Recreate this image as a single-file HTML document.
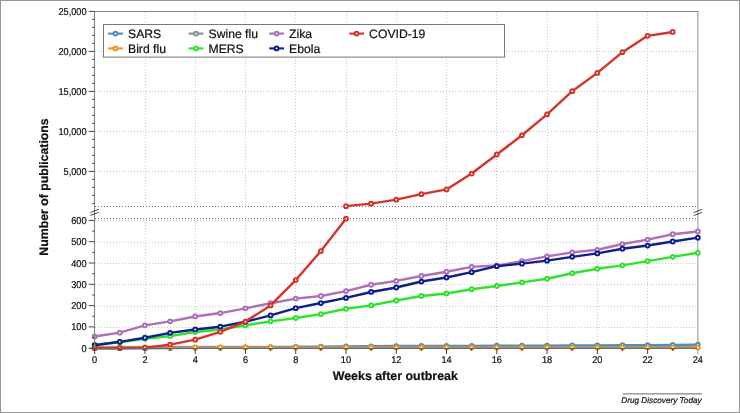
<!DOCTYPE html><html><head><meta charset="utf-8"><style>
html,body{margin:0;padding:0;background:#fff;}
body{width:740px;height:413px;overflow:hidden;position:relative;}
svg{position:absolute;left:0;top:0;filter:blur(0.5px);}
text{font-family:"Liberation Sans",sans-serif;text-rendering:geometricPrecision;stroke:#111;stroke-width:0.22px;}
</style></head><body>
<svg width="740" height="413" viewBox="0 0 740 413">
<rect x="0.5" y="0.5" width="739" height="412" fill="#fff" stroke="#979797" stroke-width="1"/>

<g stroke="#c8c8c8" stroke-width="1" stroke-dasharray="1 2"><line x1="145.5" y1="12" x2="145.5" y2="206" /><line x1="145.5" y1="219" x2="145.5" y2="348" /><line x1="195.5" y1="12" x2="195.5" y2="206" /><line x1="195.5" y1="219" x2="195.5" y2="348" /><line x1="245.5" y1="12" x2="245.5" y2="206" /><line x1="245.5" y1="219" x2="245.5" y2="348" /><line x1="295.5" y1="12" x2="295.5" y2="206" /><line x1="295.5" y1="219" x2="295.5" y2="348" /><line x1="346.5" y1="12" x2="346.5" y2="206" /><line x1="346.5" y1="219" x2="346.5" y2="348" /><line x1="396.5" y1="12" x2="396.5" y2="206" /><line x1="396.5" y1="219" x2="396.5" y2="348" /><line x1="446.5" y1="12" x2="446.5" y2="206" /><line x1="446.5" y1="219" x2="446.5" y2="348" /><line x1="496.5" y1="12" x2="496.5" y2="206" /><line x1="496.5" y1="219" x2="496.5" y2="348" /><line x1="547.5" y1="12" x2="547.5" y2="206" /><line x1="547.5" y1="219" x2="547.5" y2="348" /><line x1="597.5" y1="12" x2="597.5" y2="206" /><line x1="597.5" y1="219" x2="597.5" y2="348" /><line x1="647.5" y1="12" x2="647.5" y2="206" /><line x1="647.5" y1="219" x2="647.5" y2="348" /><line x1="95" y1="171.5" x2="698" y2="171.5" /><line x1="95" y1="131.5" x2="698" y2="131.5" /><line x1="95" y1="91.5" x2="698" y2="91.5" /><line x1="95" y1="51.5" x2="698" y2="51.5" /><line x1="95" y1="327.5" x2="698" y2="327.5" /><line x1="95" y1="306.5" x2="698" y2="306.5" /><line x1="95" y1="284.5" x2="698" y2="284.5" /><line x1="95" y1="263.5" x2="698" y2="263.5" /><line x1="95" y1="242.5" x2="698" y2="242.5" /><line x1="95" y1="220.5" x2="698" y2="220.5" /></g>
<g stroke="#707070" stroke-width="1" stroke-dasharray="1 2"><line x1="95" y1="206.5" x2="698" y2="206.5"/><line x1="95" y1="218.5" x2="698" y2="218.5"/></g>
<line x1="697.8" y1="11" x2="697.8" y2="354.5" stroke="#bcbcbc" stroke-width="1.6"/>
<path d="M94.67,348.20 L119.80,348.20 L144.94,348.20 L170.07,347.99 L195.20,347.77 L220.33,347.56 L245.47,347.35 L270.60,347.13 L295.73,346.92 L320.87,346.71 L346.00,346.50 L371.13,346.28 L396.27,346.07 L421.40,345.86 L446.53,345.86 L471.67,345.86 L496.80,345.64 L521.93,345.64 L547.06,345.64 L572.20,345.43 L597.33,345.43 L622.46,345.22 L647.60,345.22 L672.73,345.00 L697.86,344.58" fill="none" stroke="#4b8fc1" stroke-width="2.4" stroke-linejoin="round"/><circle cx="94.67" cy="348.20" r="1.9" fill="#fff" stroke="#4b8fc1" stroke-width="2.0"/><circle cx="119.80" cy="348.20" r="1.9" fill="#fff" stroke="#4b8fc1" stroke-width="2.0"/><circle cx="144.94" cy="348.20" r="1.9" fill="#fff" stroke="#4b8fc1" stroke-width="2.0"/><circle cx="170.07" cy="347.99" r="1.9" fill="#fff" stroke="#4b8fc1" stroke-width="2.0"/><circle cx="195.20" cy="347.77" r="1.9" fill="#fff" stroke="#4b8fc1" stroke-width="2.0"/><circle cx="220.33" cy="347.56" r="1.9" fill="#fff" stroke="#4b8fc1" stroke-width="2.0"/><circle cx="245.47" cy="347.35" r="1.9" fill="#fff" stroke="#4b8fc1" stroke-width="2.0"/><circle cx="270.60" cy="347.13" r="1.9" fill="#fff" stroke="#4b8fc1" stroke-width="2.0"/><circle cx="295.73" cy="346.92" r="1.9" fill="#fff" stroke="#4b8fc1" stroke-width="2.0"/><circle cx="320.87" cy="346.71" r="1.9" fill="#fff" stroke="#4b8fc1" stroke-width="2.0"/><circle cx="346.00" cy="346.50" r="1.9" fill="#fff" stroke="#4b8fc1" stroke-width="2.0"/><circle cx="371.13" cy="346.28" r="1.9" fill="#fff" stroke="#4b8fc1" stroke-width="2.0"/><circle cx="396.27" cy="346.07" r="1.9" fill="#fff" stroke="#4b8fc1" stroke-width="2.0"/><circle cx="421.40" cy="345.86" r="1.9" fill="#fff" stroke="#4b8fc1" stroke-width="2.0"/><circle cx="446.53" cy="345.86" r="1.9" fill="#fff" stroke="#4b8fc1" stroke-width="2.0"/><circle cx="471.67" cy="345.86" r="1.9" fill="#fff" stroke="#4b8fc1" stroke-width="2.0"/><circle cx="496.80" cy="345.64" r="1.9" fill="#fff" stroke="#4b8fc1" stroke-width="2.0"/><circle cx="521.93" cy="345.64" r="1.9" fill="#fff" stroke="#4b8fc1" stroke-width="2.0"/><circle cx="547.06" cy="345.64" r="1.9" fill="#fff" stroke="#4b8fc1" stroke-width="2.0"/><circle cx="572.20" cy="345.43" r="1.9" fill="#fff" stroke="#4b8fc1" stroke-width="2.0"/><circle cx="597.33" cy="345.43" r="1.9" fill="#fff" stroke="#4b8fc1" stroke-width="2.0"/><circle cx="622.46" cy="345.22" r="1.9" fill="#fff" stroke="#4b8fc1" stroke-width="2.0"/><circle cx="647.60" cy="345.22" r="1.9" fill="#fff" stroke="#4b8fc1" stroke-width="2.0"/><circle cx="672.73" cy="345.00" r="1.9" fill="#fff" stroke="#4b8fc1" stroke-width="2.0"/><circle cx="697.86" cy="344.58" r="1.9" fill="#fff" stroke="#4b8fc1" stroke-width="2.0"/><path d="M94.67,347.52 L697.86,347.52" stroke="#f0951c" stroke-width="2.4" fill="none"/><path d="M94.67,347.02 L697.86,347.02" stroke="#8e8e8e" stroke-opacity="0.72" stroke-width="2.6" fill="none"/><circle cx="94.67" cy="347.52" r="1.9" fill="#fff" stroke="#f0951c" stroke-width="2.0"/><circle cx="119.80" cy="347.52" r="1.9" fill="#fff" stroke="#f0951c" stroke-width="2.0"/><circle cx="144.94" cy="347.52" r="1.9" fill="#fff" stroke="#f0951c" stroke-width="2.0"/><circle cx="170.07" cy="347.52" r="1.9" fill="#fff" stroke="#f0951c" stroke-width="2.0"/><circle cx="195.20" cy="347.52" r="1.9" fill="#fff" stroke="#f0951c" stroke-width="2.0"/><circle cx="220.33" cy="347.52" r="1.9" fill="#fff" stroke="#f0951c" stroke-width="2.0"/><circle cx="245.47" cy="347.52" r="1.9" fill="#fff" stroke="#f0951c" stroke-width="2.0"/><circle cx="270.60" cy="347.52" r="1.9" fill="#fff" stroke="#f0951c" stroke-width="2.0"/><circle cx="295.73" cy="347.52" r="1.9" fill="#fff" stroke="#f0951c" stroke-width="2.0"/><circle cx="320.87" cy="347.52" r="1.9" fill="#fff" stroke="#f0951c" stroke-width="2.0"/><circle cx="346.00" cy="347.52" r="1.9" fill="#fff" stroke="#f0951c" stroke-width="2.0"/><circle cx="371.13" cy="347.52" r="1.9" fill="#fff" stroke="#f0951c" stroke-width="2.0"/><circle cx="396.27" cy="347.52" r="1.9" fill="#fff" stroke="#f0951c" stroke-width="2.0"/><circle cx="421.40" cy="347.52" r="1.9" fill="#fff" stroke="#f0951c" stroke-width="2.0"/><circle cx="446.53" cy="347.52" r="1.9" fill="#fff" stroke="#f0951c" stroke-width="2.0"/><circle cx="471.67" cy="347.52" r="1.9" fill="#fff" stroke="#f0951c" stroke-width="2.0"/><circle cx="496.80" cy="347.52" r="1.9" fill="#fff" stroke="#f0951c" stroke-width="2.0"/><circle cx="521.93" cy="347.52" r="1.9" fill="#fff" stroke="#f0951c" stroke-width="2.0"/><circle cx="547.06" cy="347.52" r="1.9" fill="#fff" stroke="#f0951c" stroke-width="2.0"/><circle cx="572.20" cy="347.52" r="1.9" fill="#fff" stroke="#f0951c" stroke-width="2.0"/><circle cx="597.33" cy="347.52" r="1.9" fill="#fff" stroke="#f0951c" stroke-width="2.0"/><circle cx="622.46" cy="347.52" r="1.9" fill="#fff" stroke="#f0951c" stroke-width="2.0"/><circle cx="647.60" cy="347.52" r="1.9" fill="#fff" stroke="#f0951c" stroke-width="2.0"/><circle cx="672.73" cy="347.52" r="1.9" fill="#fff" stroke="#f0951c" stroke-width="2.0"/><circle cx="697.86" cy="347.52" r="1.9" fill="#fff" stroke="#f0951c" stroke-width="2.0"/><path d="M94.67,344.79 L119.80,342.24 L144.94,338.83 L170.07,336.06 L195.20,332.01 L220.33,329.46 L245.47,325.20 L270.60,321.36 L295.73,317.95 L320.87,314.12 L346.00,308.79 L371.13,305.39 L396.27,300.49 L421.40,296.01 L446.53,293.46 L471.67,289.20 L496.80,286.00 L521.93,282.38 L547.06,278.76 L572.20,273.22 L597.33,268.75 L622.46,265.34 L647.60,261.08 L672.73,256.82 L697.86,252.78" fill="none" stroke="#2ee32e" stroke-width="2.4" stroke-linejoin="round"/><circle cx="94.67" cy="344.79" r="1.9" fill="#fff" stroke="#2ee32e" stroke-width="2.0"/><circle cx="119.80" cy="342.24" r="1.9" fill="#fff" stroke="#2ee32e" stroke-width="2.0"/><circle cx="144.94" cy="338.83" r="1.9" fill="#fff" stroke="#2ee32e" stroke-width="2.0"/><circle cx="170.07" cy="336.06" r="1.9" fill="#fff" stroke="#2ee32e" stroke-width="2.0"/><circle cx="195.20" cy="332.01" r="1.9" fill="#fff" stroke="#2ee32e" stroke-width="2.0"/><circle cx="220.33" cy="329.46" r="1.9" fill="#fff" stroke="#2ee32e" stroke-width="2.0"/><circle cx="245.47" cy="325.20" r="1.9" fill="#fff" stroke="#2ee32e" stroke-width="2.0"/><circle cx="270.60" cy="321.36" r="1.9" fill="#fff" stroke="#2ee32e" stroke-width="2.0"/><circle cx="295.73" cy="317.95" r="1.9" fill="#fff" stroke="#2ee32e" stroke-width="2.0"/><circle cx="320.87" cy="314.12" r="1.9" fill="#fff" stroke="#2ee32e" stroke-width="2.0"/><circle cx="346.00" cy="308.79" r="1.9" fill="#fff" stroke="#2ee32e" stroke-width="2.0"/><circle cx="371.13" cy="305.39" r="1.9" fill="#fff" stroke="#2ee32e" stroke-width="2.0"/><circle cx="396.27" cy="300.49" r="1.9" fill="#fff" stroke="#2ee32e" stroke-width="2.0"/><circle cx="421.40" cy="296.01" r="1.9" fill="#fff" stroke="#2ee32e" stroke-width="2.0"/><circle cx="446.53" cy="293.46" r="1.9" fill="#fff" stroke="#2ee32e" stroke-width="2.0"/><circle cx="471.67" cy="289.20" r="1.9" fill="#fff" stroke="#2ee32e" stroke-width="2.0"/><circle cx="496.80" cy="286.00" r="1.9" fill="#fff" stroke="#2ee32e" stroke-width="2.0"/><circle cx="521.93" cy="282.38" r="1.9" fill="#fff" stroke="#2ee32e" stroke-width="2.0"/><circle cx="547.06" cy="278.76" r="1.9" fill="#fff" stroke="#2ee32e" stroke-width="2.0"/><circle cx="572.20" cy="273.22" r="1.9" fill="#fff" stroke="#2ee32e" stroke-width="2.0"/><circle cx="597.33" cy="268.75" r="1.9" fill="#fff" stroke="#2ee32e" stroke-width="2.0"/><circle cx="622.46" cy="265.34" r="1.9" fill="#fff" stroke="#2ee32e" stroke-width="2.0"/><circle cx="647.60" cy="261.08" r="1.9" fill="#fff" stroke="#2ee32e" stroke-width="2.0"/><circle cx="672.73" cy="256.82" r="1.9" fill="#fff" stroke="#2ee32e" stroke-width="2.0"/><circle cx="697.86" cy="252.78" r="1.9" fill="#fff" stroke="#2ee32e" stroke-width="2.0"/><path d="M94.67,336.49 L119.80,332.65 L144.94,325.41 L170.07,321.36 L195.20,316.46 L220.33,313.06 L245.47,308.37 L270.60,303.26 L295.73,298.57 L320.87,296.01 L346.00,291.12 L371.13,284.73 L396.27,280.89 L421.40,275.99 L446.53,271.73 L471.67,266.83 L496.80,265.56 L521.93,261.08 L547.06,256.40 L572.20,252.35 L597.33,249.79 L622.46,244.04 L647.60,239.57 L672.73,234.25 L697.86,231.48" fill="none" stroke="#ae6fb8" stroke-width="2.4" stroke-linejoin="round"/><circle cx="94.67" cy="336.49" r="1.9" fill="#fff" stroke="#ae6fb8" stroke-width="2.0"/><circle cx="119.80" cy="332.65" r="1.9" fill="#fff" stroke="#ae6fb8" stroke-width="2.0"/><circle cx="144.94" cy="325.41" r="1.9" fill="#fff" stroke="#ae6fb8" stroke-width="2.0"/><circle cx="170.07" cy="321.36" r="1.9" fill="#fff" stroke="#ae6fb8" stroke-width="2.0"/><circle cx="195.20" cy="316.46" r="1.9" fill="#fff" stroke="#ae6fb8" stroke-width="2.0"/><circle cx="220.33" cy="313.06" r="1.9" fill="#fff" stroke="#ae6fb8" stroke-width="2.0"/><circle cx="245.47" cy="308.37" r="1.9" fill="#fff" stroke="#ae6fb8" stroke-width="2.0"/><circle cx="270.60" cy="303.26" r="1.9" fill="#fff" stroke="#ae6fb8" stroke-width="2.0"/><circle cx="295.73" cy="298.57" r="1.9" fill="#fff" stroke="#ae6fb8" stroke-width="2.0"/><circle cx="320.87" cy="296.01" r="1.9" fill="#fff" stroke="#ae6fb8" stroke-width="2.0"/><circle cx="346.00" cy="291.12" r="1.9" fill="#fff" stroke="#ae6fb8" stroke-width="2.0"/><circle cx="371.13" cy="284.73" r="1.9" fill="#fff" stroke="#ae6fb8" stroke-width="2.0"/><circle cx="396.27" cy="280.89" r="1.9" fill="#fff" stroke="#ae6fb8" stroke-width="2.0"/><circle cx="421.40" cy="275.99" r="1.9" fill="#fff" stroke="#ae6fb8" stroke-width="2.0"/><circle cx="446.53" cy="271.73" r="1.9" fill="#fff" stroke="#ae6fb8" stroke-width="2.0"/><circle cx="471.67" cy="266.83" r="1.9" fill="#fff" stroke="#ae6fb8" stroke-width="2.0"/><circle cx="496.80" cy="265.56" r="1.9" fill="#fff" stroke="#ae6fb8" stroke-width="2.0"/><circle cx="521.93" cy="261.08" r="1.9" fill="#fff" stroke="#ae6fb8" stroke-width="2.0"/><circle cx="547.06" cy="256.40" r="1.9" fill="#fff" stroke="#ae6fb8" stroke-width="2.0"/><circle cx="572.20" cy="252.35" r="1.9" fill="#fff" stroke="#ae6fb8" stroke-width="2.0"/><circle cx="597.33" cy="249.79" r="1.9" fill="#fff" stroke="#ae6fb8" stroke-width="2.0"/><circle cx="622.46" cy="244.04" r="1.9" fill="#fff" stroke="#ae6fb8" stroke-width="2.0"/><circle cx="647.60" cy="239.57" r="1.9" fill="#fff" stroke="#ae6fb8" stroke-width="2.0"/><circle cx="672.73" cy="234.25" r="1.9" fill="#fff" stroke="#ae6fb8" stroke-width="2.0"/><circle cx="697.86" cy="231.48" r="1.9" fill="#fff" stroke="#ae6fb8" stroke-width="2.0"/><path d="M94.67,345.22 L119.80,341.81 L144.94,337.76 L170.07,332.86 L195.20,329.46 L220.33,326.69 L245.47,321.79 L270.60,315.40 L295.73,308.16 L320.87,303.04 L346.00,297.93 L371.13,291.97 L396.27,287.50 L421.40,281.53 L446.53,277.48 L471.67,272.16 L496.80,266.19 L521.93,263.64 L547.06,260.66 L572.20,256.82 L597.33,253.41 L622.46,248.73 L647.60,245.53 L672.73,241.49 L697.86,237.65" fill="none" stroke="#0f1f8c" stroke-width="2.4" stroke-linejoin="round"/><circle cx="94.67" cy="345.22" r="1.9" fill="#fff" stroke="#0f1f8c" stroke-width="2.0"/><circle cx="119.80" cy="341.81" r="1.9" fill="#fff" stroke="#0f1f8c" stroke-width="2.0"/><circle cx="144.94" cy="337.76" r="1.9" fill="#fff" stroke="#0f1f8c" stroke-width="2.0"/><circle cx="170.07" cy="332.86" r="1.9" fill="#fff" stroke="#0f1f8c" stroke-width="2.0"/><circle cx="195.20" cy="329.46" r="1.9" fill="#fff" stroke="#0f1f8c" stroke-width="2.0"/><circle cx="220.33" cy="326.69" r="1.9" fill="#fff" stroke="#0f1f8c" stroke-width="2.0"/><circle cx="245.47" cy="321.79" r="1.9" fill="#fff" stroke="#0f1f8c" stroke-width="2.0"/><circle cx="270.60" cy="315.40" r="1.9" fill="#fff" stroke="#0f1f8c" stroke-width="2.0"/><circle cx="295.73" cy="308.16" r="1.9" fill="#fff" stroke="#0f1f8c" stroke-width="2.0"/><circle cx="320.87" cy="303.04" r="1.9" fill="#fff" stroke="#0f1f8c" stroke-width="2.0"/><circle cx="346.00" cy="297.93" r="1.9" fill="#fff" stroke="#0f1f8c" stroke-width="2.0"/><circle cx="371.13" cy="291.97" r="1.9" fill="#fff" stroke="#0f1f8c" stroke-width="2.0"/><circle cx="396.27" cy="287.50" r="1.9" fill="#fff" stroke="#0f1f8c" stroke-width="2.0"/><circle cx="421.40" cy="281.53" r="1.9" fill="#fff" stroke="#0f1f8c" stroke-width="2.0"/><circle cx="446.53" cy="277.48" r="1.9" fill="#fff" stroke="#0f1f8c" stroke-width="2.0"/><circle cx="471.67" cy="272.16" r="1.9" fill="#fff" stroke="#0f1f8c" stroke-width="2.0"/><circle cx="496.80" cy="266.19" r="1.9" fill="#fff" stroke="#0f1f8c" stroke-width="2.0"/><circle cx="521.93" cy="263.64" r="1.9" fill="#fff" stroke="#0f1f8c" stroke-width="2.0"/><circle cx="547.06" cy="260.66" r="1.9" fill="#fff" stroke="#0f1f8c" stroke-width="2.0"/><circle cx="572.20" cy="256.82" r="1.9" fill="#fff" stroke="#0f1f8c" stroke-width="2.0"/><circle cx="597.33" cy="253.41" r="1.9" fill="#fff" stroke="#0f1f8c" stroke-width="2.0"/><circle cx="622.46" cy="248.73" r="1.9" fill="#fff" stroke="#0f1f8c" stroke-width="2.0"/><circle cx="647.60" cy="245.53" r="1.9" fill="#fff" stroke="#0f1f8c" stroke-width="2.0"/><circle cx="672.73" cy="241.49" r="1.9" fill="#fff" stroke="#0f1f8c" stroke-width="2.0"/><circle cx="697.86" cy="237.65" r="1.9" fill="#fff" stroke="#0f1f8c" stroke-width="2.0"/><path d="M94.67,348.20 L119.80,348.20 L144.94,347.77 L170.07,344.58 L195.20,339.68 L220.33,331.80 L245.47,321.57 L270.60,305.39 L295.73,280.04 L320.87,251.07 L346.00,218.70" fill="none" stroke="#d3342a" stroke-width="2.4" stroke-linejoin="round"/><circle cx="94.67" cy="348.20" r="1.9" fill="#fff" stroke="#d3342a" stroke-width="2.0"/><circle cx="119.80" cy="348.20" r="1.9" fill="#fff" stroke="#d3342a" stroke-width="2.0"/><circle cx="144.94" cy="347.77" r="1.9" fill="#fff" stroke="#d3342a" stroke-width="2.0"/><circle cx="170.07" cy="344.58" r="1.9" fill="#fff" stroke="#d3342a" stroke-width="2.0"/><circle cx="195.20" cy="339.68" r="1.9" fill="#fff" stroke="#d3342a" stroke-width="2.0"/><circle cx="220.33" cy="331.80" r="1.9" fill="#fff" stroke="#d3342a" stroke-width="2.0"/><circle cx="245.47" cy="321.57" r="1.9" fill="#fff" stroke="#d3342a" stroke-width="2.0"/><circle cx="270.60" cy="305.39" r="1.9" fill="#fff" stroke="#d3342a" stroke-width="2.0"/><circle cx="295.73" cy="280.04" r="1.9" fill="#fff" stroke="#d3342a" stroke-width="2.0"/><circle cx="320.87" cy="251.07" r="1.9" fill="#fff" stroke="#d3342a" stroke-width="2.0"/><circle cx="346.00" cy="218.70" r="1.9" fill="#fff" stroke="#d3342a" stroke-width="2.0"/><path d="M346.00,206.16 L371.13,203.68 L396.27,199.66 L421.40,194.16 L446.53,189.44 L471.67,173.56 L496.80,154.48 L521.93,135.28 L547.06,114.36 L572.20,91.16 L597.33,72.88 L622.46,52.16 L647.60,35.84 L672.73,31.96" fill="none" stroke="#d3342a" stroke-width="2.4" stroke-linejoin="round"/><circle cx="346.00" cy="206.16" r="1.9" fill="#fff" stroke="#d3342a" stroke-width="2.0"/><circle cx="371.13" cy="203.68" r="1.9" fill="#fff" stroke="#d3342a" stroke-width="2.0"/><circle cx="396.27" cy="199.66" r="1.9" fill="#fff" stroke="#d3342a" stroke-width="2.0"/><circle cx="421.40" cy="194.16" r="1.9" fill="#fff" stroke="#d3342a" stroke-width="2.0"/><circle cx="446.53" cy="189.44" r="1.9" fill="#fff" stroke="#d3342a" stroke-width="2.0"/><circle cx="471.67" cy="173.56" r="1.9" fill="#fff" stroke="#d3342a" stroke-width="2.0"/><circle cx="496.80" cy="154.48" r="1.9" fill="#fff" stroke="#d3342a" stroke-width="2.0"/><circle cx="521.93" cy="135.28" r="1.9" fill="#fff" stroke="#d3342a" stroke-width="2.0"/><circle cx="547.06" cy="114.36" r="1.9" fill="#fff" stroke="#d3342a" stroke-width="2.0"/><circle cx="572.20" cy="91.16" r="1.9" fill="#fff" stroke="#d3342a" stroke-width="2.0"/><circle cx="597.33" cy="72.88" r="1.9" fill="#fff" stroke="#d3342a" stroke-width="2.0"/><circle cx="622.46" cy="52.16" r="1.9" fill="#fff" stroke="#d3342a" stroke-width="2.0"/><circle cx="647.60" cy="35.84" r="1.9" fill="#fff" stroke="#d3342a" stroke-width="2.0"/><circle cx="672.73" cy="31.96" r="1.9" fill="#fff" stroke="#d3342a" stroke-width="2.0"/>
<line x1="94.5" y1="11" x2="94.5" y2="349" stroke="#858585" stroke-width="1.1"/><line x1="94" y1="11.5" x2="698.5" y2="11.5" stroke="#858585" stroke-width="1.1"/><line x1="88.8" y1="348.5" x2="697" y2="348.5" stroke="#6a6a6a" stroke-width="1"/><line x1="92.2" y1="203.36" x2="94.5" y2="203.36" stroke="#444" stroke-width="1"/><line x1="92.2" y1="195.36" x2="94.5" y2="195.36" stroke="#444" stroke-width="1"/><line x1="92.2" y1="187.36" x2="94.5" y2="187.36" stroke="#444" stroke-width="1"/><line x1="92.2" y1="179.36" x2="94.5" y2="179.36" stroke="#444" stroke-width="1"/><line x1="88.8" y1="171.36" x2="94.5" y2="171.36" stroke="#444" stroke-width="1"/><line x1="92.2" y1="163.36" x2="94.5" y2="163.36" stroke="#444" stroke-width="1"/><line x1="92.2" y1="155.36" x2="94.5" y2="155.36" stroke="#444" stroke-width="1"/><line x1="92.2" y1="147.36" x2="94.5" y2="147.36" stroke="#444" stroke-width="1"/><line x1="92.2" y1="139.36" x2="94.5" y2="139.36" stroke="#444" stroke-width="1"/><line x1="88.8" y1="131.36" x2="94.5" y2="131.36" stroke="#444" stroke-width="1"/><line x1="92.2" y1="123.36" x2="94.5" y2="123.36" stroke="#444" stroke-width="1"/><line x1="92.2" y1="115.36" x2="94.5" y2="115.36" stroke="#444" stroke-width="1"/><line x1="92.2" y1="107.36" x2="94.5" y2="107.36" stroke="#444" stroke-width="1"/><line x1="92.2" y1="99.36" x2="94.5" y2="99.36" stroke="#444" stroke-width="1"/><line x1="88.8" y1="91.36" x2="94.5" y2="91.36" stroke="#444" stroke-width="1"/><line x1="92.2" y1="83.36" x2="94.5" y2="83.36" stroke="#444" stroke-width="1"/><line x1="92.2" y1="75.36" x2="94.5" y2="75.36" stroke="#444" stroke-width="1"/><line x1="92.2" y1="67.36" x2="94.5" y2="67.36" stroke="#444" stroke-width="1"/><line x1="92.2" y1="59.36" x2="94.5" y2="59.36" stroke="#444" stroke-width="1"/><line x1="88.8" y1="51.36" x2="94.5" y2="51.36" stroke="#444" stroke-width="1"/><line x1="92.2" y1="43.36" x2="94.5" y2="43.36" stroke="#444" stroke-width="1"/><line x1="92.2" y1="35.36" x2="94.5" y2="35.36" stroke="#444" stroke-width="1"/><line x1="92.2" y1="27.36" x2="94.5" y2="27.36" stroke="#444" stroke-width="1"/><line x1="92.2" y1="19.36" x2="94.5" y2="19.36" stroke="#444" stroke-width="1"/><line x1="88.8" y1="11.36" x2="94.5" y2="11.36" stroke="#444" stroke-width="1"/><line x1="88.8" y1="348.20" x2="94.5" y2="348.20" stroke="#444" stroke-width="1"/><line x1="92.2" y1="337.55" x2="94.5" y2="337.55" stroke="#444" stroke-width="1"/><line x1="88.8" y1="326.90" x2="94.5" y2="326.90" stroke="#444" stroke-width="1"/><line x1="92.2" y1="316.25" x2="94.5" y2="316.25" stroke="#444" stroke-width="1"/><line x1="88.8" y1="305.60" x2="94.5" y2="305.60" stroke="#444" stroke-width="1"/><line x1="92.2" y1="294.95" x2="94.5" y2="294.95" stroke="#444" stroke-width="1"/><line x1="88.8" y1="284.30" x2="94.5" y2="284.30" stroke="#444" stroke-width="1"/><line x1="92.2" y1="273.65" x2="94.5" y2="273.65" stroke="#444" stroke-width="1"/><line x1="88.8" y1="263.00" x2="94.5" y2="263.00" stroke="#444" stroke-width="1"/><line x1="92.2" y1="252.35" x2="94.5" y2="252.35" stroke="#444" stroke-width="1"/><line x1="88.8" y1="241.70" x2="94.5" y2="241.70" stroke="#444" stroke-width="1"/><line x1="92.2" y1="231.05" x2="94.5" y2="231.05" stroke="#444" stroke-width="1"/><line x1="88.8" y1="220.40" x2="94.5" y2="220.40" stroke="#444" stroke-width="1"/><line x1="94.67" y1="348" x2="94.67" y2="354" stroke="#444" stroke-width="1"/><line x1="119.80" y1="348" x2="119.80" y2="351" stroke="#444" stroke-width="1"/><line x1="144.94" y1="348" x2="144.94" y2="354" stroke="#444" stroke-width="1"/><line x1="170.07" y1="348" x2="170.07" y2="351" stroke="#444" stroke-width="1"/><line x1="195.20" y1="348" x2="195.20" y2="354" stroke="#444" stroke-width="1"/><line x1="220.33" y1="348" x2="220.33" y2="351" stroke="#444" stroke-width="1"/><line x1="245.47" y1="348" x2="245.47" y2="354" stroke="#444" stroke-width="1"/><line x1="270.60" y1="348" x2="270.60" y2="351" stroke="#444" stroke-width="1"/><line x1="295.73" y1="348" x2="295.73" y2="354" stroke="#444" stroke-width="1"/><line x1="320.87" y1="348" x2="320.87" y2="351" stroke="#444" stroke-width="1"/><line x1="346.00" y1="348" x2="346.00" y2="354" stroke="#444" stroke-width="1"/><line x1="371.13" y1="348" x2="371.13" y2="351" stroke="#444" stroke-width="1"/><line x1="396.27" y1="348" x2="396.27" y2="354" stroke="#444" stroke-width="1"/><line x1="421.40" y1="348" x2="421.40" y2="351" stroke="#444" stroke-width="1"/><line x1="446.53" y1="348" x2="446.53" y2="354" stroke="#444" stroke-width="1"/><line x1="471.67" y1="348" x2="471.67" y2="351" stroke="#444" stroke-width="1"/><line x1="496.80" y1="348" x2="496.80" y2="354" stroke="#444" stroke-width="1"/><line x1="521.93" y1="348" x2="521.93" y2="351" stroke="#444" stroke-width="1"/><line x1="547.06" y1="348" x2="547.06" y2="354" stroke="#444" stroke-width="1"/><line x1="572.20" y1="348" x2="572.20" y2="351" stroke="#444" stroke-width="1"/><line x1="597.33" y1="348" x2="597.33" y2="354" stroke="#444" stroke-width="1"/><line x1="622.46" y1="348" x2="622.46" y2="351" stroke="#444" stroke-width="1"/><line x1="647.60" y1="348" x2="647.60" y2="354" stroke="#444" stroke-width="1"/><line x1="672.73" y1="348" x2="672.73" y2="351" stroke="#444" stroke-width="1"/><line x1="90.3" y1="212.5" x2="98.8" y2="209.3" stroke="#333" stroke-width="0.9"/><line x1="90.3" y1="215.4" x2="98.8" y2="212.3" stroke="#333" stroke-width="0.9"/><line x1="693.6" y1="212.6" x2="702" y2="209.4" stroke="#333" stroke-width="0.9"/><line x1="693.6" y1="215.6" x2="702" y2="212.4" stroke="#333" stroke-width="0.9"/>
<g fill="#111"><text transform="translate(86.6,14.91) scale(0.92,1)" text-anchor="end" font-size="10.0">25,000</text><text transform="translate(86.6,54.91) scale(0.92,1)" text-anchor="end" font-size="10.0">20,000</text><text transform="translate(86.6,94.91) scale(0.92,1)" text-anchor="end" font-size="10.0">15,000</text><text transform="translate(86.6,134.91) scale(0.92,1)" text-anchor="end" font-size="10.0">10,000</text><text transform="translate(86.6,174.91) scale(0.92,1)" text-anchor="end" font-size="10.0">5,000</text><text transform="translate(86.6,351.75) scale(0.92,1)" text-anchor="end" font-size="10.0">0</text><text transform="translate(86.6,330.45) scale(0.92,1)" text-anchor="end" font-size="10.0">100</text><text transform="translate(86.6,309.15) scale(0.92,1)" text-anchor="end" font-size="10.0">200</text><text transform="translate(86.6,287.85) scale(0.92,1)" text-anchor="end" font-size="10.0">300</text><text transform="translate(86.6,266.55) scale(0.92,1)" text-anchor="end" font-size="10.0">400</text><text transform="translate(86.6,245.25) scale(0.92,1)" text-anchor="end" font-size="10.0">500</text><text transform="translate(86.6,223.95) scale(0.92,1)" text-anchor="end" font-size="10.0">600</text><text transform="translate(94.67,362.7) scale(0.94,1)" text-anchor="middle" font-size="9.8">0</text><text transform="translate(144.94,362.7) scale(0.94,1)" text-anchor="middle" font-size="9.8">2</text><text transform="translate(195.20,362.7) scale(0.94,1)" text-anchor="middle" font-size="9.8">4</text><text transform="translate(245.47,362.7) scale(0.94,1)" text-anchor="middle" font-size="9.8">6</text><text transform="translate(295.73,362.7) scale(0.94,1)" text-anchor="middle" font-size="9.8">8</text><text transform="translate(346.00,362.7) scale(0.94,1)" text-anchor="middle" font-size="9.8">10</text><text transform="translate(396.27,362.7) scale(0.94,1)" text-anchor="middle" font-size="9.8">12</text><text transform="translate(446.53,362.7) scale(0.94,1)" text-anchor="middle" font-size="9.8">14</text><text transform="translate(496.80,362.7) scale(0.94,1)" text-anchor="middle" font-size="9.8">16</text><text transform="translate(547.06,362.7) scale(0.94,1)" text-anchor="middle" font-size="9.8">18</text><text transform="translate(597.33,362.7) scale(0.94,1)" text-anchor="middle" font-size="9.8">20</text><text transform="translate(647.60,362.7) scale(0.94,1)" text-anchor="middle" font-size="9.8">22</text><text transform="translate(697.86,362.7) scale(0.94,1)" text-anchor="middle" font-size="9.8">24</text></g>
<text x="395.3" y="380.3" text-anchor="middle" font-size="12.4" font-weight="bold" fill="#111">Weeks after outbreak</text>
<text transform="translate(48.2,187) rotate(-90)" x="0" y="0" text-anchor="middle" font-size="12.3" font-weight="bold" fill="#111">Number of publications</text>
<rect x="103.5" y="24.5" width="401" height="32.6" fill="#fff" stroke="#777" stroke-width="1"/><line x1="108.1" y1="33.6" x2="122.89999999999999" y2="33.6" stroke="#4b8fc1" stroke-width="2.1"/><circle cx="115.5" cy="33.6" r="1.9" fill="#fff" stroke="#4b8fc1" stroke-width="2.0"/><text x="128.0" y="38.0" font-size="12.2" fill="#111">SARS</text><line x1="108.1" y1="48.400000000000006" x2="122.89999999999999" y2="48.400000000000006" stroke="#f0951c" stroke-width="2.1"/><circle cx="115.5" cy="48.400000000000006" r="1.9" fill="#fff" stroke="#f0951c" stroke-width="2.0"/><text x="128.0" y="52.800000000000004" font-size="12.2" fill="#111">Bird flu</text><line x1="188.6" y1="33.6" x2="203.4" y2="33.6" stroke="#8e8e8e" stroke-width="2.1"/><circle cx="196.0" cy="33.6" r="1.9" fill="#fff" stroke="#8e8e8e" stroke-width="2.0"/><text x="208.5" y="38.0" font-size="12.2" fill="#111">Swine flu</text><line x1="188.6" y1="48.400000000000006" x2="203.4" y2="48.400000000000006" stroke="#2ee32e" stroke-width="2.1"/><circle cx="196.0" cy="48.400000000000006" r="1.9" fill="#fff" stroke="#2ee32e" stroke-width="2.0"/><text x="208.5" y="52.800000000000004" font-size="12.2" fill="#111">MERS</text><line x1="269.2" y1="33.6" x2="284.0" y2="33.6" stroke="#ae6fb8" stroke-width="2.1"/><circle cx="276.59999999999997" cy="33.6" r="1.9" fill="#fff" stroke="#ae6fb8" stroke-width="2.0"/><text x="289.09999999999997" y="38.0" font-size="12.2" fill="#111">Zika</text><line x1="269.2" y1="48.400000000000006" x2="284.0" y2="48.400000000000006" stroke="#0f1f8c" stroke-width="2.1"/><circle cx="276.59999999999997" cy="48.400000000000006" r="1.9" fill="#fff" stroke="#0f1f8c" stroke-width="2.0"/><text x="289.09999999999997" y="52.800000000000004" font-size="12.2" fill="#111">Ebola</text><line x1="349.2" y1="33.6" x2="364.0" y2="33.6" stroke="#d3342a" stroke-width="2.1"/><circle cx="356.59999999999997" cy="33.6" r="1.9" fill="#fff" stroke="#d3342a" stroke-width="2.0"/><text x="369.09999999999997" y="38.0" font-size="12.2" fill="#111">COVID-19</text>
<line x1="622.8" y1="393.9" x2="701.9" y2="393.9" stroke="#666" stroke-width="1"/>
<text x="701.6" y="402.7" text-anchor="end" font-size="8.2" font-style="italic" fill="#222">Drug Discovery Today</text>
</svg></body></html>
